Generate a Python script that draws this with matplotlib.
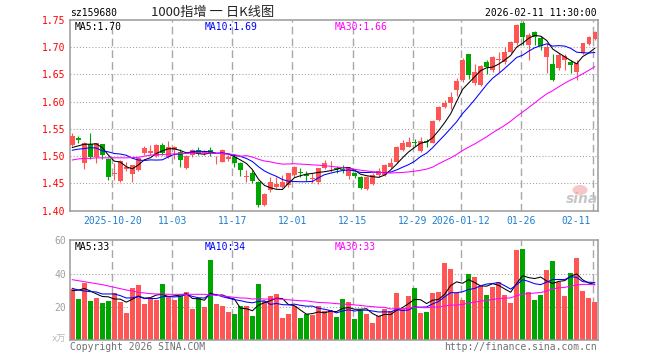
import matplotlib
matplotlib.use("Agg")
import matplotlib.pyplot as plt
from matplotlib.patches import Ellipse
import matplotlib.transforms as mtransforms
import numpy as np

# ---------------- data ----------------
opens = [1.521, 1.533, 1.488, 1.522, 1.499, 1.522, 1.494, 1.467, 1.4545, 1.476,
         1.467, 1.475, 1.506, 1.506, 1.500, 1.521, 1.499, 1.511, 1.508, 1.479,
         1.502, 1.511, 1.5053, 1.5114, 1.494, 1.490, 1.494, 1.498, 1.488, 1.462,
         1.4698, 1.4526, 1.4104, 1.438, 1.444, 1.444, 1.4465, 1.4655, 1.4712, 1.4673,
         1.459, 1.4532, 1.4777, 1.4793, 1.4766, 1.476, 1.4637, 1.4686, 1.4612, 1.4392,
         1.449, 1.465, 1.4655, 1.4796, 1.4888, 1.5114, 1.5175, 1.5255, 1.510, 1.5267,
         1.525, 1.5665, 1.5898, 1.5983, 1.6216, 1.640, 1.6876, 1.6338, 1.6307, 1.6736,
         1.6583, 1.6760, 1.6736, 1.6907, 1.7072, 1.744, 1.7042, 1.7286, 1.7176, 1.6826,
         1.6692, 1.6613, 1.6766, 1.6736, 1.6552, 1.689, 1.706, 1.715]
closes = [1.538, 1.529, 1.524, 1.499, 1.524, 1.502, 1.462, 1.4675, 1.491, 1.481,
          1.483, 1.497, 1.515, 1.510, 1.521, 1.506, 1.516, 1.516, 1.493, 1.500,
          1.511, 1.504, 1.5102, 1.5053, 1.4945, 1.5114, 1.498, 1.487, 1.4747, 1.4625,
          1.4545, 1.4104, 1.4306, 1.452, 1.449, 1.4526, 1.4685, 1.481, 1.470, 1.4636,
          1.4594, 1.4777, 1.487, 1.4796, 1.4760, 1.4745, 1.4796, 1.4637, 1.441, 1.4625,
          1.4655, 1.4735, 1.4838, 1.488, 1.516, 1.5248, 1.5267, 1.5249, 1.528, 1.5255,
          1.5647, 1.591, 1.5983, 1.6093, 1.6387, 1.6766, 1.649, 1.6552, 1.6662, 1.6644,
          1.6828, 1.6766, 1.692, 1.709, 1.741, 1.718, 1.7225, 1.718, 1.7023, 1.701,
          1.640, 1.6857, 1.6839, 1.6675, 1.6705, 1.7072, 1.7182, 1.7274]
highs = [1.542, 1.537, 1.527, 1.543, 1.525, 1.523, 1.497, 1.487, 1.493, 1.489,
         1.484, 1.499, 1.519, 1.521, 1.522, 1.524, 1.528, 1.519, 1.513, 1.502,
         1.513, 1.516, 1.512, 1.516, 1.500, 1.514, 1.503, 1.502, 1.490, 1.4747,
         1.4747, 1.454, 1.432, 1.4624, 1.4624, 1.4655, 1.470, 1.482, 1.4777, 1.4734,
         1.4685, 1.479, 1.493, 1.4918, 1.482, 1.4838, 1.480, 1.4716, 1.4637, 1.4637,
         1.4686, 1.478, 1.486, 1.497, 1.519, 1.530, 1.536, 1.531, 1.5346, 1.531,
         1.5665, 1.593, 1.604, 1.617, 1.643, 1.6797, 1.6876, 1.670, 1.6675, 1.6766,
         1.684, 1.692, 1.701, 1.712, 1.743, 1.748, 1.7255, 1.7305, 1.721, 1.707,
         1.6876, 1.689, 1.687, 1.6766, 1.6766, 1.7084, 1.7206, 1.729]
lows = [1.519, 1.524, 1.4765, 1.495, 1.488, 1.494, 1.457, 1.457, 1.453, 1.473,
        1.453, 1.472, 1.502, 1.502, 1.499, 1.502, 1.496, 1.494, 1.481, 1.476,
        1.498, 1.502, 1.503, 1.500, 1.4857, 1.489, 1.492, 1.481, 1.4637, 1.453,
        1.4515, 1.406, 1.4086, 1.435, 1.441, 1.441, 1.444, 1.4624, 1.4624, 1.455,
        1.450, 1.4483, 1.476, 1.4716, 1.470, 1.4685, 1.458, 1.4606, 1.439, 1.438,
        1.447, 1.462, 1.4637, 1.478, 1.487, 1.510, 1.5163, 1.5188, 1.5083, 1.5175,
        1.5236, 1.5653, 1.588, 1.586, 1.6105, 1.637, 1.6417, 1.6307, 1.629, 1.651,
        1.655, 1.655, 1.6693, 1.689, 1.704, 1.704, 1.6766, 1.704, 1.695, 1.6534,
        1.6387, 1.658, 1.658, 1.6523, 1.640, 1.688, 1.7042, 1.7133]
volumes = [30.5, 24.7, 34.5, 23.7, 25.5, 22.5, 23.7, 28.1, 23.1, 16.4,
           31.5, 33.1, 21.9, 24.5, 24.3, 33.7, 26.1, 24.3, 26.7, 28.9,
           18.9, 25.1, 20.1, 48.1, 21.9, 20.5, 17.1, 15.6, 20.5, 20.5,
           14.4, 33.7, 23.5, 26.5, 27.7, 13.2, 15.6, 20.3, 13.2, 15.4,
           15.0, 20.5, 17.7, 18.1, 14.0, 24.7, 23.1, 12.6, 18.1, 15.6,
           10.2, 14.4, 18.7, 17.5, 28.5, 18.5, 26.5, 31.3, 16.4, 16.9,
           28.5, 29.1, 46.5, 42.7, 28.1, 24.3, 39.9, 37.9, 32.5, 27.3,
           31.9, 34.9, 27.1, 22.5, 54.2, 54.8, 29.1, 24.3, 27.1, 42.3,
           47.5, 35.1, 26.7, 40.3, 49.3, 29.5, 25.5, 23.1]

# moving-average values at the start of the window (history before first bar)
ma5_head = [1.516, 1.519, 1.522, 1.522]
ma10_head = [1.511, 1.513, 1.514, 1.5157, 1.515, 1.510, 1.508, 1.505, 1.504]
ma30_head = [1.493, 1.495, 1.496, 1.496, 1.497, 1.497, 1.497, 1.497, 1.497, 1.497,
             1.4975, 1.498, 1.500, 1.502, 1.503, 1.503, 1.504, 1.504, 1.505, 1.505,
             1.506, 1.506, 1.506, 1.506, 1.505, 1.505, 1.504, 1.503, 1.500]
vma5_head = [29.7, 30.0, 31.0, 29.5]
vma10_head = [31.1, 30.1, 29.5, 29.1, 28.9, 27.7, 27.7, 27.7, 26.7]
vma30_head = [36.3, 35.7, 35.1, 34.5, 33.9, 33.3, 32.5, 31.7, 30.9, 30.1,
              29.5, 28.7, 28.3, 27.9, 27.7, 27.7, 27.5, 27.5, 27.5, 27.5,
              27.5, 27.5, 27.5, 27.1, 26.9, 26.5, 26.1, 25.7, 25.3]

date_labels = ["2025-10-20", "11-03", "11-17", "12-01", "12-15", "12-29",
               "2026-01-12", "01-26", "02-11"]
date_index = [7, 17, 27, 37, 47, 57, 65, 75, 87]

price_ticks = [1.40, 1.45, 1.50, 1.55, 1.60, 1.65, 1.70, 1.75]
vol_ticks = [20, 40, 60]

title = "1000指增 一 日K线图"
code = "sz159680"
stamp = "2026-02-11 11:30:00"
price_legend = ["MA5:1.70", "MA10:1.69", "MA30:1.66"]
vol_legend = ["MA5:33", "MA10:34", "MA30:33"]


def moving_average(vals, n, head):
    out = []
    for i in range(len(vals)):
        if i < n - 1:
            out.append(head[i])
        else:
            out.append(float(np.mean(vals[i - n + 1:i + 1])))
    return out


# ---------------- drawing ----------------
W, H = 660, 360
fig = plt.figure(figsize=(W / 100, H / 100), dpi=100)
fig.patch.set_facecolor("white")

L, R = 70, 597.5
ax = fig.add_axes([L / W, 1 - 210.7 / H, (R - L) / W, 190.7 / H])
axv = fig.add_axes([L / W, 20 / H, (R - L) / W, 99.7 / H])

MONO = "DejaVu Sans Mono"
RED = "#ff5555"
GREEN = "#00a600"
GRID = "#a8a8a8"
SPINE = "#9a9a9a"

n = len(closes)
x = np.arange(n)
up = [c >= o for o, c in zip(opens, closes)]
colors = [RED if u else GREEN for u in up]

xlim = (-0.38, 87.46)
for a in (ax, axv):
    a.set_xlim(*xlim)
    for s in a.spines.values():
        s.set_color(SPINE)
        s.set_linewidth(1.1)
    a.set_xticks([])
    for gi in date_index:
        a.axvline(gi - 0.33, color=GRID, lw=1.0, linestyle=(0, (5.5, 3)), zorder=0)

ax.set_ylim(1.40, 1.75)
for t in price_ticks[1:-1]:
    ax.axhline(t, color="#a0a0a0", lw=0.75, linestyle=(0, (1, 2)), zorder=0)
axv.set_ylim(0, 60)
for t in vol_ticks[:-1]:
    axv.axhline(t, color="#a0a0a0", lw=0.75, linestyle=(0, (1, 2)), zorder=0)

# candles
ax.vlines(x, lows, highs, colors=colors, lw=0.8, zorder=2)
bottoms = [min(o, c) for o, c in zip(opens, closes)]
heights = [max(abs(c - o), 0.0016) for o, c in zip(opens, closes)]
ax.bar(x, heights, bottom=bottoms, width=0.74, color=colors, linewidth=0, zorder=3)

# moving averages
ma5 = moving_average(closes, 5, ma5_head)
ma10 = moving_average(closes, 10, ma10_head)
ma30 = moving_average(closes, 30, ma30_head)
ax.plot(x, ma5, color="black", lw=0.75, zorder=4)
ax.plot(x, ma10, color="#0000ff", lw=0.75, zorder=4)
ax.plot(x, ma30, color="#ff00ff", lw=0.75, zorder=4)

# volume
axv.bar(x, volumes, width=0.78, color=colors, linewidth=0, zorder=2)
vma5 = moving_average(volumes, 5, vma5_head)
vma10 = moving_average(volumes, 10, vma10_head)
vma30 = moving_average(volumes, 30, vma30_head)
axv.plot(x, vma5, color="black", lw=0.75, zorder=4)
axv.plot(x, vma10, color="#0000ff", lw=0.75, zorder=4)
axv.plot(x, vma30, color="#ff00ff", lw=0.75, zorder=4)

# y tick labels
ax.set_yticks(price_ticks)
ax.set_yticklabels([f"{t:.2f}" for t in price_ticks], fontfamily=MONO,
                   fontsize=7, color="#ff0000")
ax.tick_params(axis="y", length=0, pad=3)
axv.set_yticks(vol_ticks)
axv.set_yticklabels([str(t) for t in vol_ticks], fontfamily=MONO,
                    fontsize=7, color="#a0a0a0")
axv.tick_params(axis="y", length=0, pad=3)


def ptext(px, py, s, **kw):
    fig.text(px / W, 1 - py / H, s, **kw)


# x labels (dates)
trans = mtransforms.blended_transform_factory(ax.transData, ax.transAxes)
for lab, gi in zip(date_labels, date_index):
    if gi == date_index[-1]:
        ax.text(86.3, -0.055, lab, transform=trans, ha="right", va="center",
                fontfamily=MONO, fontsize=7, color="#1f7fd0")
    else:
        ax.text(gi - 0.33, -0.055, lab, transform=trans, ha="center", va="center",
                fontfamily=MONO, fontsize=7, color="#1f7fd0")

# header texts
ptext(70, 12.5, code, fontfamily=MONO, fontsize=7, color="black", va="center")
ptext(213, 12.5, title, fontfamily=["Noto Sans CJK SC", "DejaVu Sans"], fontsize=9.5,
      color="#222222", ha="center", va="center")
ptext(597, 12.5, stamp, fontfamily=MONO, fontsize=7, color="black", ha="right", va="center")

leg_colors = ["black", "#0000ff", "#ff00ff"]
leg_x = [75, 204.5, 335]
for s, c, lx in zip(price_legend, leg_colors, leg_x):
    ptext(lx, 26.5, s, fontfamily=MONO, fontsize=7, color=c, va="center")
for s, c, lx in zip(vol_legend, leg_colors, leg_x):
    ptext(lx, 246.5, s, fontfamily=MONO, fontsize=7, color=c, va="center")

ptext(66, 339, "x万", fontfamily=[MONO, "Noto Sans CJK SC"], fontsize=6.5,
      color="#b8b8b8", ha="right", va="center")
ptext(70, 346.5, "Copyright 2026 SINA.COM", fontfamily=MONO, fontsize=7,
      color="#707070", va="center")
ptext(597, 346.5, "http://finance.sina.com.cn", fontfamily=MONO, fontsize=7,
      color="#707070", ha="right", va="center")

# sina watermark
fig.add_artist(Ellipse((580 / W, 1 - 190 / H), 15 / W, 10 / H, transform=fig.transFigure,
                       facecolor="#f2a0a0", edgecolor="none", alpha=0.6, zorder=5))
ptext(582, 199, "sina", fontfamily="DejaVu Sans", fontsize=10, fontweight="bold",
      fontstyle="italic", color="#c0c0c0", ha="center", va="center", alpha=0.9)

fig.savefig("out.png", dpi=100, facecolor="white")
